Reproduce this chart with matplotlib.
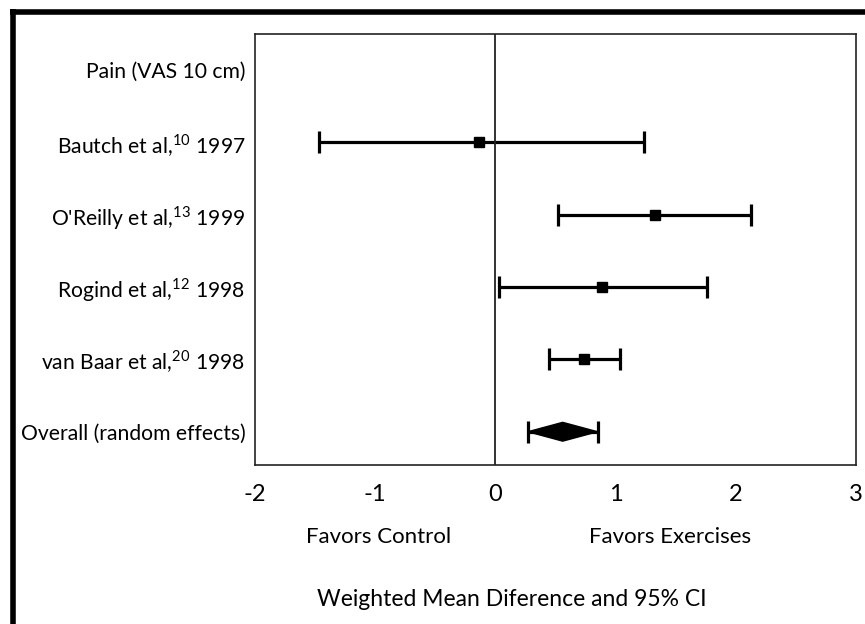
import matplotlib
matplotlib.use("Agg")
import matplotlib.pyplot as plt
from matplotlib.lines import Line2D
from matplotlib.patches import Polygon

plt.rcParams['font.family'] = ['Lato', 'DejaVu Sans']

# data -------------------------------------------------
studies = [r'Bautch et al,$^{\mathregular{10}}$ 1997',
           r"O'Reilly et al,$^{\mathregular{13}}$ 1999",
           r'Rogind et al,$^{\mathregular{12}}$ 1998',
           r'van Baar et al,$^{\mathregular{20}}$ 1998']
wmd   = [-0.14, 1.33, 0.89, 0.74]
lower = [-1.47, 0.52, 0.03, 0.45]
upper = [1.24, 2.13, 1.76, 1.04]

overall_label = 'Overall (random effects)'
overall = 0.56
overall_lo = 0.27
overall_hi = 0.85

header = 'Pain (VAS 10 cm)'
xticks = [-2, -1, 0, 1, 2, 3]
#-------------------------------------------------------

fig = plt.figure(figsize=(8.65, 6.24), dpi=100)
ax = fig.add_axes([0.2948, 0.2548, 0.6948, 0.6907])

ypos = list(range(1, len(studies) + 1))
for y, m, lo, hi in zip(ypos, wmd, lower, upper):
    ax.errorbar(m, y, xerr=[[m - lo], [hi - m]], fmt='s', color='black',
                ms=7, elinewidth=2.3, capsize=8, capthick=2.3)

y_ov = len(studies) + 1
ax.errorbar(overall, y_ov, xerr=[[overall - overall_lo], [overall_hi - overall]],
            fmt='none', color='black', elinewidth=2.3, capsize=8, capthick=2.3)
h = 0.13
ax.add_patch(Polygon([(overall_lo, y_ov), (overall, y_ov - h), (overall_hi, y_ov),
                      (overall, y_ov + h)], closed=True, color='black'))

ax.axvline(0, color='#222222', lw=1.3)

ax.set_xlim(-2, 3)
ax.set_ylim(y_ov + 0.46, -0.5)
ax.set_xticks(xticks)
ax.set_xticklabels([str(t) for t in xticks], fontsize=17)
ax.set_yticks([0] + ypos + [y_ov])
ax.set_yticklabels([header] + studies + [overall_label], fontsize=15.2)
ax.tick_params(length=0, pad=7)
ax.tick_params(axis='x', pad=14)
for s in ax.spines.values():
    s.set_linewidth(1.2)
    s.set_color('#222222')

fig.text(379 / 865, 1 - 537 / 624, 'Favors Control', ha='center', va='center', fontsize=16)
fig.text(670 / 865, 1 - 537 / 624, 'Favors Exercises', ha='center', va='center', fontsize=16)
fig.text(512 / 865, 1 - 600 / 624, 'Weighted Mean Diference and 95% CI', ha='center',
         va='center', fontsize=16.5)

# thick frame on the left and top
fig.add_artist(Line2D([12.5 / 865, 12.5 / 865], [0, 1 - 9 / 624], color='black', lw=4,
                      transform=fig.transFigure, solid_capstyle='butt'))
fig.add_artist(Line2D([10 / 865, 1], [1 - 11.5 / 624, 1 - 11.5 / 624], color='black', lw=4,
                      transform=fig.transFigure, solid_capstyle='butt'))

fig.savefig('out.png', dpi=100)
